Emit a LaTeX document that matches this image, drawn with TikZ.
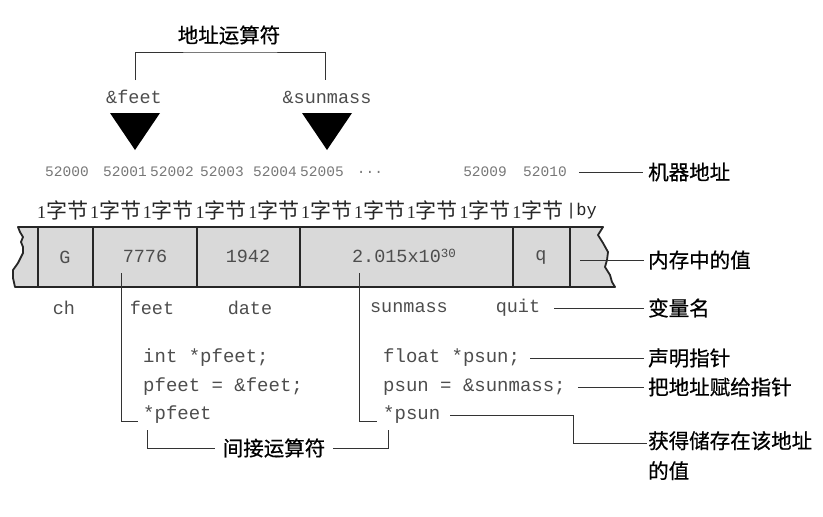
\documentclass[tikz,border=0pt]{standalone}
\usepackage{fontspec}
\setmainfont{Liberation Serif}
\setmonofont{Liberation Mono}
\newfontfamily\cjk{Noto Sans CJK SC}
\newfontfamily\cjkb{Noto Sans CJK SC}[FakeBold=0.6]
\definecolor{txtgray}{HTML}{4D4D4D}
\definecolor{addrgray}{HTML}{777777}
\definecolor{linegray}{HTML}{333333}
\definecolor{cellfill}{HTML}{D9D9D9}
\begin{document}
\begin{tikzpicture}[x=1pt,y=-1pt,
  mono/.style={font=\fontsize{18.5}{20}\ttfamily, text=txtgray, inner sep=0pt},
  code/.style={font=\fontsize{19}{21}\ttfamily, text=txtgray, inner sep=0pt, anchor=west},
  addr/.style={font=\fontsize{14.5}{16}\ttfamily, text=addrgray, inner sep=0pt},
  lbl/.style={font=\fontsize{20.5}{24}\cjkb, text=black, inner sep=0pt, anchor=west},
  byteunit/.style={font=\fontsize{18}{21}\selectfont, text=black!85, inner sep=0pt, anchor=west},
  conn/.style={draw=linegray, line width=1pt},
  border/.style={draw=black!85, line width=1.8pt},
  tri/.style={fill=black, draw=none}]
\useasboundingbox (0,0) rectangle (823,517);

% ---- top: address operator
\node[lbl, anchor=center] (addrop) at (229,35) {地址运算符};
\node[mono] (amfeet) at (134,97) {\&feet};
\node[mono] (amsun) at (327,97) {\&sunmass};
\coordinate (bl) at (135,80);
\coordinate (br) at (325,80);
\draw[conn] (bl) |- (230,52) -| (br);
\fill[tri] (110,113) -- (160,113) -- (135,150) -- cycle;
\fill[tri] (302,113) -- (352,113) -- (327,150) -- cycle;

% ---- addresses
\node[addr] (a0) at (67,172) {52000};
\node[addr] (a1) at (125,172) {52001};
\node[addr] (a2) at (172,172) {52002};
\node[addr] (a3) at (222,172) {52003};
\node[addr] (a4) at (275,172) {52004};
\node[addr] (a5) at (322,172) {52005};
\node[addr] (adots) at (370,172) {...};
\node[addr] (a9) at (485,172) {52009};
\node[addr] (a10) at (545,172) {52010};
\node[lbl] (lmach) at (648,172) {机器地址};
\draw[conn] ([xshift=12pt]a10.east) -- ([xshift=-5pt]lmach.west);

% ---- byte labels
\foreach \i in {0,...,9} {
  \node[byteunit] (b\i) at ({37+52.8*\i},210) {1{\fontsize{21}{23}\cjk 字节}};
}
\node[byteunit, font=\fontsize{17}{19}\ttfamily] (bby) at (566,211) {|by};

% ---- memory strip
\filldraw[fill=cellfill, draw=black!85, line width=1.8pt, line join=round]
  (18,227) -- (603,227) -- (598,235) -- (603,243) -- (608,252) -- (607,260)
  -- (605,267) -- (610,275) -- (612,282) -- (615,287) -- (15,287)
  -- (13,278) -- (13,270) -- (18,263) -- (23,253) -- (23,247) -- (21,242)
  -- (23,237) -- (20,232) -- cycle;
\foreach \xx in {38,93,197,300,513,570} {
  \draw[border] (\xx,227) -- (\xx,287);
}
\node[mono] (vG) at (65,257) {G};
\node[mono] (v7776) at (145,256) {7776};
\node[mono] (v1942) at (248,256) {1942};
\node[mono] (vsun) at (404,256) {2.015x10\raisebox{0.55ex}{\fontsize{12.5}{13}\selectfont 30}};
\node[mono] (vq) at (541,257) {q};
\node[lbl] (lval) at (648,260) {内存中的值};
\coordinate (qline) at (580,260);
\draw[conn] (qline) -- ([xshift=-4pt]lval.west);

% ---- variable names
\node[mono] (nch) at (64,308) {ch};
\node[mono] (nfeet) at (152,308) {feet};
\node[mono] (ndate) at (250,308) {date};
\node[mono] (nsun) at (409,308) {sunmass};
\node[mono] (nquit) at (518,308) {quit};
\node[lbl] (lvar) at (648,308) {变量名};
\draw[conn] ([xshift=14pt]nquit.east) -- ([xshift=-4pt]lvar.west);

% ---- code
\node[code] (c1) at (143,358) {int *pfeet;};
\node[code] (c2) at (143,387) {pfeet = \&feet;};
\node[code] (c3) at (143,415) {*pfeet};
\node[code] (d1) at (383,358) {float *psun;};
\node[code] (d2) at (383,387) {psun = \&sunmass;};
\node[code] (d3) at (383,415) {*psun};
\node[lbl] (ldecl) at (648,358) {声明指针};
\node[lbl] (lassign) at (648,387) {把地址赋给指针};
\node[lbl, align=left, font=\fontsize{20.5}{30}\cjkb, anchor=north west] (lget) at (648,431) {获得储存在该地址\\的值};
\draw[conn] ([xshift=10pt]d1.east) -- ([xshift=-4pt]ldecl.west);
\draw[conn] ([xshift=12pt]d2.east) -- ([xshift=-4pt]lassign.west);
\draw[conn] ([xshift=10pt]d3.east) -| (573,443) -- (647,443);

% pointer connectors from cells
\coordinate (pf) at (121,273);
\coordinate (ps) at (359,273);
\draw[conn] (pf) |- ([xshift=-5pt,yshift=-6pt]c3.west);
\draw[conn] (ps) |- ([xshift=-6pt,yshift=-6pt]d3.west);

% ---- indirection operator
\node[lbl, anchor=center] (indir) at (274,448) {间接运算符};
\draw[conn] (147,430) |- ([xshift=-8pt]indir.west);
\draw[conn] (388,430) |- ([xshift=8pt]indir.east);
\end{tikzpicture}
\end{document}
